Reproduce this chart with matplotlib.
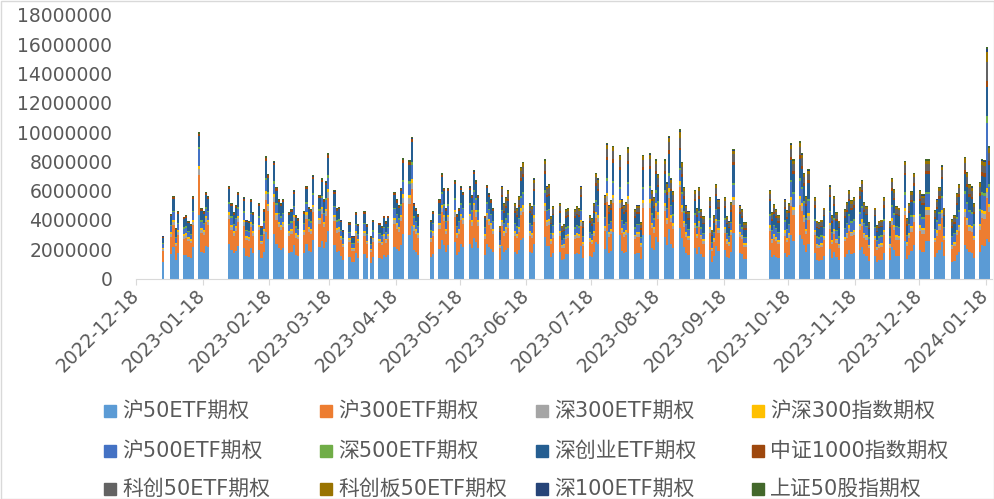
import numpy as np
import pandas as pd
import matplotlib
matplotlib.use('Agg')
from matplotlib import pyplot as plt
from matplotlib.patches import Rectangle
from matplotlib.ticker import FuncFormatter
import matplotlib.dates as mdates

plt.rcParams['font.family'] = ['DejaVu Sans', 'Noto Sans CJK SC']

UNIT = 10000  # values below in 万张

# trading days: weekdays 2022-12-30 .. 2024-01-19 without exchange holidays
HOLIDAYS = ['2023-01-02', '2023-01-23', '2023-01-24', '2023-01-25', '2023-01-26',
            '2023-01-27', '2023-04-05', '2023-05-01', '2023-05-02', '2023-05-03',
            '2023-06-22', '2023-06-23', '2023-09-29', '2023-10-02', '2023-10-03',
            '2023-10-04', '2023-10-05', '2023-10-06', '2024-01-01']

NAMES = ['沪50ETF期权', '沪300ETF期权', '深300ETF期权', '沪深300指数期权',
         '沪500ETF期权', '深500ETF期权', '深创业ETF期权', '中证1000指数期权',
         '科创50ETF期权', '科创板50ETF期权', '深100ETF期权', '上证50股指期权']
COLORS = ['#5B9BD5', '#ED7D31', '#A5A5A5', '#FFC000', '#4472C4', '#70AD47',
          '#255E91', '#9E480E', '#636363', '#997300', '#264478', '#43682B']

# one row per trading week
sh50 = [110,
        167, 213, 129, 175, 160, 163, 148, 141, 213, 434, 182, 175, 224, 213,
        239, 194, 171, 190, 224, 209, 152, 148, 205, 171, 194, 137, 179, 315, 270,
        304, 236, 205, 194, 205, 171, 179, 228, 163, 156, 175, 239, 186, 179, 266,
        217, 258, 205, 251, 323, 228, 182, 186, 152, 125, 144, 110, 110, 171, 141,
        170, 137, 107, 148, 141, 133, 159, 144, 159, 218, 200, 185, 229, 303,
        300, 359, 192, 178, 163, 148, 170, 200, 266, 229, 178, 229,
        248, 163, 178, 233, 218, 233, 211, 274, 248, 211, 159, 237, 215, 200, 178,
        126, 221, 179, 193, 210, 179, 168, 196, 266, 277, 179, 172, 238,
        284, 221, 224, 147, 172, 179, 126, 130, 165, 168, 165, 172, 168, 221, 137,
        151, 144, 179, 252, 238, 200, 322, 175, 186, 315, 294, 189, 175, 182, 312,
        165, 175, 175, 133, 294, 298, 210, 193, 284, 249, 284, 228, 340, 238, 207,
        347, 277, 217, 175, 161, 210, 168, 217, 165, 147, 193, 116, 151, 224, 189,
        193, 147, 137, 182, 308, 175, 165, 133, 133,
        192, 144, 160, 150, 138, 173, 147, 163, 294, 259, 298, 272, 230, 179, 237,
        176, 125, 122, 128, 154, 202, 138, 179, 144, 125, 150, 166, 192, 170, 176,
        198, 214, 166, 157, 122, 154, 115, 125, 128, 176, 125, 218, 195, 157, 154,
        256, 131, 163, 189, 230, 192, 182, 182, 259, 259, 147, 173, 198, 246, 154,
        112, 120, 162, 179, 230, 202, 179, 174, 143, 182, 227, 224, 270, 249]
sh300 = [78,
         119, 151, 92, 124, 113, 116, 105, 100, 151, 272, 130, 124, 159, 151,
         170, 138, 122, 135, 159, 149, 108, 105, 146, 122, 138, 97, 127, 224, 192,
         216, 167, 146, 138, 146, 122, 127, 162, 116, 111, 124, 170, 132, 127, 189,
         154, 184, 146, 178, 230, 162, 130, 132, 108, 89, 103, 78, 78, 122, 100,
         120, 96, 75, 104, 99, 94, 112, 101, 112, 153, 140, 130, 161, 213,
         211, 252, 135, 125, 114, 104, 120, 140, 187, 161, 125, 161,
         174, 114, 125, 164, 153, 164, 148, 192, 174, 148, 112, 166, 151, 140, 125,
         79, 139, 112, 121, 132, 112, 106, 123, 167, 174, 112, 108, 150,
         178, 139, 141, 92, 108, 112, 79, 81, 103, 106, 103, 108, 106, 139, 86,
         95, 90, 112, 158, 150, 125, 202, 110, 117, 198, 185, 119, 110, 114, 196,
         103, 110, 110, 84, 185, 187, 132, 121, 178, 156, 178, 143, 213, 150, 130,
         280, 174, 136, 110, 101, 132, 106, 136, 103, 92, 121, 73, 95, 141, 119,
         121, 92, 86, 114, 194, 110, 103, 84, 84,
         132, 99, 110, 103, 95, 119, 101, 112, 202, 178, 205, 187, 158, 123, 163,
         121, 86, 84, 88, 106, 139, 95, 123, 99, 86, 103, 114, 132, 117, 121,
         136, 147, 114, 108, 84, 106, 79, 86, 88, 121, 86, 150, 134, 108, 106,
         176, 90, 112, 130, 158, 132, 125, 125, 178, 178, 101, 119, 136, 169, 106,
         92, 99, 133, 147, 189, 166, 147, 143, 117, 150, 186, 184, 280, 205]
sz300 = [13,
         20, 25, 15, 21, 19, 19, 18, 17, 25, 40, 22, 21, 27, 25,
         28, 23, 20, 23, 27, 25, 18, 18, 24, 20, 23, 16, 21, 37, 32,
         36, 28, 24, 23, 24, 20, 21, 27, 19, 18, 21, 28, 22, 21, 32,
         26, 31, 24, 30, 38, 27, 22, 22, 18, 15, 17, 13, 13, 20, 17,
         21, 17, 13, 18, 17, 16, 19, 18, 19, 27, 24, 23, 28, 37,
         36, 44, 23, 22, 20, 18, 21, 24, 32, 28, 22, 28,
         30, 20, 22, 28, 27, 28, 26, 33, 30, 26, 19, 29, 26, 24, 22,
         14, 25, 20, 22, 24, 20, 19, 22, 30, 32, 20, 20, 27,
         32, 25, 26, 17, 20, 20, 14, 15, 19, 19, 19, 20, 19, 25, 16,
         17, 16, 20, 29, 27, 23, 37, 20, 21, 36, 34, 22, 20, 21, 36,
         19, 20, 20, 15, 34, 34, 24, 22, 32, 28, 32, 26, 39, 27, 24,
         15, 32, 25, 20, 18, 24, 19, 25, 19, 17, 22, 13, 17, 26, 22,
         22, 17, 16, 21, 35, 20, 19, 15, 15,
         24, 18, 20, 19, 17, 22, 18, 20, 37, 32, 37, 34, 29, 22, 30,
         22, 16, 15, 16, 19, 25, 17, 22, 18, 16, 19, 21, 24, 21, 22,
         25, 27, 21, 20, 15, 19, 14, 16, 16, 22, 16, 27, 24, 20, 19,
         32, 16, 20, 24, 29, 24, 23, 23, 32, 32, 18, 22, 25, 31, 19,
         16, 17, 23, 26, 33, 29, 26, 25, 20, 26, 32, 32, 40, 36]
hs300_index = [7,
               11, 14, 9, 12, 11, 11, 10, 9, 14, 23, 12, 12, 15, 14,
               16, 13, 11, 13, 15, 14, 10, 10, 14, 11, 13, 9, 12, 21, 18,
               20, 16, 14, 13, 14, 11, 12, 15, 11, 10, 12, 16, 12, 12, 18,
               14, 17, 14, 17, 21, 15, 12, 12, 10, 8, 10, 7, 7, 11, 9,
               12, 9, 7, 10, 10, 9, 11, 10, 11, 15, 14, 13, 16, 21,
               20, 24, 13, 12, 11, 10, 12, 14, 18, 16, 12, 16,
               17, 11, 12, 16, 15, 16, 14, 19, 17, 14, 11, 16, 15, 14, 12,
               9, 16, 13, 14, 15, 13, 12, 14, 19, 20, 13, 12, 17,
               20, 16, 16, 11, 12, 13, 9, 9, 12, 12, 12, 12, 12, 16, 10,
               11, 10, 13, 18, 17, 14, 23, 13, 13, 23, 21, 14, 13, 13, 22,
               12, 13, 13, 10, 21, 21, 15, 14, 20, 18, 20, 16, 24, 17, 15,
               22, 20, 16, 13, 12, 15, 12, 16, 12, 11, 14, 8, 11, 16, 14,
               14, 11, 10, 13, 22, 13, 12, 10, 10,
               15, 11, 13, 12, 11, 14, 12, 13, 23, 20, 23, 21, 18, 14, 19,
               14, 10, 10, 10, 12, 16, 11, 14, 11, 10, 12, 13, 15, 13, 14,
               16, 17, 13, 12, 10, 12, 9, 10, 10, 14, 10, 17, 15, 12, 12,
               20, 10, 13, 15, 18, 15, 14, 14, 20, 20, 12, 14, 16, 19, 12,
               10, 11, 15, 16, 21, 18, 16, 16, 13, 16, 20, 20, 25, 22]
sh500 = [26,
         40, 50, 31, 41, 38, 39, 35, 33, 50, 118, 43, 41, 53, 50,
         57, 46, 41, 45, 53, 50, 36, 35, 49, 41, 46, 32, 42, 75, 64,
         72, 56, 49, 46, 49, 41, 42, 54, 39, 37, 41, 57, 44, 42, 63,
         51, 61, 49, 59, 77, 54, 43, 44, 36, 30, 34, 26, 26, 41, 33,
         46, 37, 29, 40, 38, 36, 43, 39, 43, 59, 54, 50, 62, 82,
         81, 97, 52, 48, 44, 40, 46, 54, 72, 62, 48, 62,
         67, 44, 48, 63, 59, 63, 57, 74, 67, 57, 43, 64, 58, 54, 48,
         32, 57, 46, 50, 54, 46, 43, 50, 68, 71, 46, 44, 61,
         73, 57, 58, 38, 44, 46, 32, 33, 42, 43, 42, 44, 43, 57, 35,
         39, 37, 46, 65, 61, 51, 83, 45, 48, 81, 76, 49, 45, 47, 80,
         42, 45, 45, 34, 76, 77, 54, 50, 73, 64, 73, 59, 87, 61, 53,
         80, 71, 56, 45, 41, 54, 43, 56, 42, 38, 50, 30, 39, 58, 49,
         50, 38, 35, 47, 79, 45, 42, 34, 34,
         66, 50, 55, 52, 47, 59, 51, 56, 101, 89, 102, 94, 79, 62, 81,
         61, 43, 42, 44, 53, 69, 47, 62, 50, 43, 52, 57, 66, 58, 61,
         68, 74, 57, 54, 42, 53, 40, 43, 44, 61, 43, 75, 67, 54, 53,
         88, 45, 56, 65, 79, 66, 63, 63, 89, 89, 51, 59, 68, 85, 53,
         52, 56, 75, 83, 107, 94, 83, 81, 66, 85, 105, 104, 450, 116]
sz500 = [6,
         9, 11, 7, 9, 8, 9, 8, 7, 11, 14, 10, 9, 12, 11,
         13, 10, 9, 10, 12, 11, 8, 8, 11, 9, 10, 7, 9, 17, 14,
         16, 12, 11, 10, 11, 9, 9, 12, 9, 8, 9, 13, 10, 9, 14,
         11, 14, 11, 13, 17, 12, 10, 10, 8, 7, 8, 6, 6, 9, 7,
         9, 7, 6, 8, 8, 7, 9, 8, 9, 12, 11, 10, 12, 16,
         16, 19, 10, 10, 9, 8, 9, 11, 14, 12, 10, 12,
         13, 9, 10, 13, 12, 13, 11, 15, 13, 11, 9, 13, 12, 11, 10,
         6, 11, 9, 10, 11, 9, 9, 10, 14, 14, 9, 9, 12,
         15, 11, 12, 8, 9, 9, 6, 7, 8, 9, 8, 9, 9, 11, 7,
         8, 7, 9, 13, 12, 10, 17, 9, 10, 16, 15, 10, 9, 9, 16,
         8, 9, 9, 7, 15, 15, 11, 10, 15, 13, 15, 12, 17, 12, 11,
         10, 14, 11, 9, 8, 11, 9, 11, 8, 8, 10, 6, 8, 12, 10,
         10, 8, 7, 9, 16, 9, 8, 7, 7,
         12, 9, 10, 9, 9, 11, 9, 10, 18, 16, 19, 17, 14, 11, 15,
         11, 8, 8, 8, 10, 13, 9, 11, 9, 8, 9, 10, 12, 11, 11,
         12, 13, 10, 10, 8, 10, 7, 8, 8, 11, 8, 14, 12, 10, 10,
         16, 8, 10, 12, 14, 12, 11, 11, 16, 16, 9, 11, 12, 15, 10,
         9, 9, 13, 14, 18, 16, 14, 14, 11, 14, 18, 18, 45, 20]
cyb = [39,
       59, 76, 46, 62, 57, 58, 53, 50, 76, 72, 65, 62, 80, 76,
       85, 69, 61, 68, 80, 74, 54, 53, 73, 61, 69, 49, 63, 112, 96,
       108, 84, 73, 69, 73, 61, 63, 81, 58, 55, 62, 85, 66, 63, 95,
       77, 92, 73, 89, 115, 81, 65, 66, 54, 45, 51, 39, 39, 61, 50,
       64, 52, 41, 56, 53, 50, 60, 55, 60, 83, 76, 70, 87, 115,
       113, 136, 73, 67, 62, 56, 64, 76, 101, 87, 67, 87,
       94, 62, 67, 88, 83, 88, 80, 104, 94, 80, 60, 90, 81, 76, 67,
       49, 85, 69, 74, 81, 69, 65, 76, 103, 107, 69, 66, 92,
       109, 85, 86, 57, 66, 69, 49, 50, 63, 65, 63, 66, 65, 85, 53,
       58, 55, 69, 97, 92, 77, 124, 68, 72, 122, 113, 73, 68, 70, 120,
       63, 68, 68, 51, 113, 115, 81, 74, 109, 96, 109, 88, 131, 92, 80,
       125, 107, 84, 68, 62, 81, 65, 84, 63, 57, 74, 45, 58, 86, 73,
       74, 57, 53, 70, 119, 68, 63, 51, 51,
       87, 65, 73, 68, 62, 78, 67, 74, 133, 117, 135, 123, 104, 81, 107,
       80, 57, 55, 58, 70, 91, 62, 81, 65, 57, 68, 75, 87, 77, 80,
       90, 97, 75, 71, 55, 70, 52, 57, 58, 80, 57, 99, 88, 71, 70,
       116, 59, 74, 86, 104, 87, 83, 83, 117, 117, 67, 78, 90, 112, 70,
       56, 60, 81, 90, 115, 101, 90, 87, 71, 91, 113, 112, 200, 125]
zz1000 = [7,
          11, 14, 9, 12, 11, 11, 10, 9, 14, 12, 12, 12, 15, 14,
          16, 13, 11, 13, 15, 14, 10, 10, 14, 11, 13, 9, 12, 21, 18,
          20, 16, 14, 13, 14, 11, 12, 15, 11, 10, 12, 16, 12, 12, 18,
          14, 17, 14, 17, 21, 15, 12, 12, 10, 8, 10, 7, 7, 11, 9,
          12, 9, 7, 10, 10, 9, 11, 10, 11, 15, 14, 13, 16, 21,
          20, 24, 13, 12, 11, 10, 12, 14, 18, 16, 12, 16,
          17, 11, 12, 16, 15, 16, 14, 19, 17, 14, 11, 16, 15, 14, 12,
          9, 16, 13, 14, 15, 13, 12, 14, 19, 20, 13, 12, 17,
          20, 16, 16, 11, 12, 13, 9, 9, 12, 12, 12, 12, 12, 16, 10,
          11, 10, 13, 18, 17, 14, 23, 13, 13, 23, 21, 14, 13, 13, 22,
          12, 13, 13, 10, 21, 21, 15, 14, 20, 18, 20, 16, 24, 17, 15,
          12, 20, 16, 13, 12, 15, 12, 16, 12, 11, 14, 8, 11, 16, 14,
          14, 11, 10, 13, 22, 13, 12, 10, 10,
          15, 11, 13, 12, 11, 14, 12, 13, 23, 20, 23, 21, 18, 14, 19,
          14, 10, 10, 10, 12, 16, 11, 14, 11, 10, 12, 13, 15, 13, 14,
          16, 17, 13, 12, 10, 12, 9, 10, 10, 14, 10, 17, 15, 12, 12,
          20, 10, 13, 15, 18, 15, 14, 14, 20, 20, 12, 14, 16, 19, 12,
          12, 13, 17, 19, 25, 22, 19, 19, 15, 20, 24, 24, 40, 27]
# 科创 options listed 2023-06-05: nothing traded on the 101 days before
NOT_LISTED = 101
kc50 = [0] * NOT_LISTED + [
        22, 38, 31, 33, 36, 31, 29, 34, 46, 47, 31, 29, 41,
        49, 38, 38, 25, 29, 31, 22, 22, 28, 29, 28, 29, 29, 38, 23,
        26, 25, 31, 43, 41, 34, 55, 30, 32, 54, 50, 32, 30, 31, 53,
        28, 30, 30, 23, 50, 51, 36, 33, 49, 43, 49, 39, 58, 41, 35,
        68, 47, 37, 30, 28, 36, 29, 37, 28, 25, 33, 20, 26, 38, 32,
        33, 25, 23, 31, 53, 30, 28, 23, 23,
        36, 27, 30, 28, 26, 32, 28, 31, 55, 49, 56, 51, 43, 34, 44,
        33, 23, 23, 24, 29, 38, 26, 34, 27, 23, 28, 31, 36, 32, 33,
        37, 40, 31, 29, 23, 29, 22, 23, 24, 33, 23, 41, 37, 29, 29,
        48, 25, 31, 35, 43, 36, 34, 34, 49, 49, 28, 32, 37, 46, 29,
        26, 28, 38, 42, 53, 47, 42, 40, 33, 42, 53, 52, 130, 58]
kcb50 = [0] * NOT_LISTED + [
         11, 19, 15, 17, 18, 15, 14, 17, 23, 24, 15, 15, 20,
         24, 19, 19, 13, 15, 15, 11, 11, 14, 14, 14, 15, 14, 19, 12,
         13, 12, 15, 22, 20, 17, 28, 15, 16, 27, 25, 16, 15, 16, 27,
         14, 15, 15, 11, 25, 26, 18, 17, 24, 21, 24, 20, 29, 20, 18,
         45, 24, 19, 15, 14, 18, 14, 19, 14, 13, 17, 10, 13, 19, 16,
         17, 13, 12, 16, 26, 15, 14, 11, 11,
         18, 14, 15, 14, 13, 16, 14, 15, 28, 24, 28, 26, 22, 17, 22,
         17, 12, 11, 12, 14, 19, 13, 17, 14, 12, 14, 16, 18, 16, 17,
         19, 20, 16, 15, 11, 14, 11, 12, 12, 17, 12, 20, 18, 15, 14,
         24, 12, 15, 18, 22, 18, 17, 17, 24, 24, 14, 16, 19, 23, 14,
         14, 15, 20, 22, 29, 25, 22, 22, 18, 23, 28, 28, 70, 31]
sz100 = [1,
         1, 2, 1, 1, 1, 1, 1, 1, 2, 3, 1, 1, 2, 2,
         2, 2, 1, 1, 2, 2, 1, 1, 2, 1, 2, 1, 1, 2, 2,
         2, 2, 2, 2, 2, 1, 1, 2, 1, 1, 1, 2, 1, 1, 2,
         2, 2, 2, 2, 3, 2, 1, 1, 1, 1, 1, 1, 1, 1, 1,
         1, 1, 1, 1, 1, 1, 1, 1, 1, 2, 2, 1, 2, 2,
         2, 3, 2, 1, 1, 1, 1, 2, 2, 2, 1, 2,
         2, 1, 1, 2, 2, 2, 2, 2, 2, 2, 1, 2, 2, 2, 1,
         1, 2, 2, 2, 2, 2, 1, 2, 2, 2, 2, 1, 2,
         2, 2, 2, 1, 1, 2, 1, 1, 1, 1, 1, 1, 1, 2, 1,
         1, 1, 2, 2, 2, 2, 3, 2, 2, 3, 3, 2, 2, 2, 3,
         1, 2, 2, 1, 3, 3, 2, 2, 2, 2, 2, 2, 3, 2, 2,
         5, 2, 2, 2, 1, 2, 1, 2, 1, 1, 2, 1, 1, 2, 2,
         2, 1, 1, 2, 3, 2, 1, 1, 1,
         2, 1, 2, 1, 1, 2, 1, 2, 3, 2, 3, 3, 2, 2, 2,
         2, 1, 1, 1, 1, 2, 1, 2, 1, 1, 1, 2, 2, 2, 2,
         2, 2, 2, 1, 1, 1, 1, 1, 1, 2, 1, 2, 2, 1, 1,
         2, 1, 2, 2, 2, 2, 2, 2, 2, 2, 1, 2, 2, 2, 1,
         2, 2, 2, 3, 3, 3, 3, 2, 2, 3, 3, 3, 15, 4]
sz50_index = [3,
              5, 7, 4, 6, 5, 5, 5, 4, 7, 12, 6, 6, 7, 7,
              8, 6, 5, 6, 7, 7, 5, 5, 6, 5, 6, 4, 6, 10, 9,
              10, 7, 6, 6, 6, 5, 6, 7, 5, 5, 6, 8, 6, 6, 8,
              7, 8, 6, 8, 10, 7, 6, 6, 5, 4, 5, 3, 3, 5, 4,
              6, 4, 3, 5, 5, 4, 5, 5, 5, 7, 6, 6, 7, 10,
              10, 12, 6, 6, 5, 5, 6, 6, 9, 7, 6, 7,
              8, 5, 6, 8, 7, 8, 7, 9, 8, 7, 5, 8, 7, 6, 6,
              4, 6, 5, 6, 6, 5, 5, 6, 8, 8, 5, 5, 7,
              8, 6, 6, 4, 5, 5, 4, 4, 5, 5, 5, 5, 5, 6, 4,
              4, 4, 5, 7, 7, 6, 9, 5, 5, 9, 8, 5, 5, 5, 9,
              5, 5, 5, 4, 8, 9, 6, 6, 8, 7, 8, 7, 10, 7, 6,
              14, 8, 6, 5, 5, 6, 5, 6, 5, 4, 6, 3, 4, 6, 5,
              6, 4, 4, 5, 9, 5, 5, 4, 4,
              6, 5, 5, 5, 4, 5, 5, 5, 9, 8, 9, 9, 7, 6, 7,
              6, 4, 4, 4, 5, 6, 4, 6, 5, 4, 5, 5, 6, 5, 6,
              6, 7, 5, 5, 4, 5, 4, 4, 4, 6, 4, 7, 6, 5, 5,
              8, 4, 5, 6, 7, 6, 6, 6, 8, 8, 5, 5, 6, 8, 5,
              4, 4, 6, 6, 8, 7, 6, 6, 5, 7, 8, 8, 15, 9]

SERIES = [sh50, sh300, sz300, hs300_index, sh500, sz500, cyb, zz1000,
          kc50, kcb50, sz100, sz50_index]

dates = pd.bdate_range('2022-12-30', '2024-01-19')
dates = dates[~dates.isin(pd.to_datetime(HOLIDAYS))]
for name, s in zip(NAMES, SERIES):
    if len(s) != len(dates):
        raise ValueError(f'{name}: {len(s)} values for {len(dates)} days')

TEXT = '#595959'
W, H = 995, 499
fig = plt.figure(figsize=(W / 100, H / 100), dpi=100)
ax = fig.add_axes([136 / W, 1 - 278.5 / H, (992 - 136) / W, (278.5 - 15) / H])

x = mdates.date2num(dates)
bottom = np.zeros(len(dates))
for name, s, color in zip(NAMES, SERIES, COLORS):
    v = np.array(s, dtype=float) * UNIT
    ax.bar(x, v, width=1.0, bottom=bottom, align='edge', color=color,
           linewidth=0, label=name)
    bottom += v

ax.set_ylim(0, 18000000)
ax.set_yticks(np.arange(0, 18000001, 2000000))
ax.yaxis.set_major_formatter(FuncFormatter(lambda v, _: f'{v:.0f}'))
ax.set_xlim(mdates.date2num(pd.Timestamp('2022-12-18')),
            mdates.date2num(pd.Timestamp('2024-01-21')))
# ticks on the 18th of every month
ticks = pd.date_range('2022-12-01', '2024-01-01', freq='MS') + pd.Timedelta(days=17)
ax.set_xticks(mdates.date2num(ticks))
ax.set_xticklabels([t.strftime('%Y-%m-%d') for t in ticks], rotation=45,
                   ha='right', va='center', rotation_mode='anchor')

for side in ['top', 'right', 'left']:
    ax.spines[side].set_visible(False)
ax.spines['bottom'].set_color('#D9D9D9')
ax.tick_params(axis='y', length=0, pad=17, labelsize=13.5, labelcolor=TEXT)
ax.tick_params(axis='x', length=4, color='#D9D9D9', pad=6, labelsize=13.5,
               labelcolor=TEXT)

# legend laid out like the Excel one: 4 equal columns, 3 rows
col_x = [104, 320, 536, 752]
row_y = [411, 451, 489]
for i, (name, color) in enumerate(zip(NAMES, COLORS)):
    px, py = col_x[i % 4], row_y[i // 4]
    fig.patches.append(Rectangle((px / W, 1 - (py + 6) / H), 12 / W, 12 / H,
                                 transform=fig.transFigure, color=color))
    fig.text((px + 18) / W, 1 - py / H, name, fontsize=15, color=TEXT,
             va='center', ha='left')

fig.patches.append(Rectangle((0.5 / W, 0.5 / H), 1 - 1 / W, 1 - 1 / H,
                             transform=fig.transFigure, fill=False,
                             edgecolor='#D9D9D9', linewidth=1))

fig.savefig('out.png', dpi=100)
